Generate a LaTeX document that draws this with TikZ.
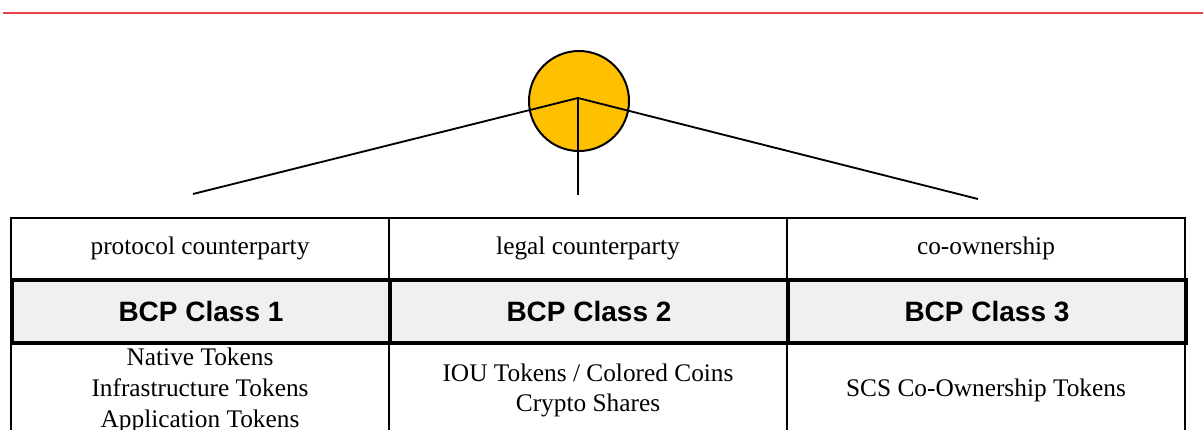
\documentclass[tikz,border=0pt]{standalone}
\usepackage{fontspec}
\setmainfont{Liberation Serif}
\newfontfamily\classfont{Liberation Sans}
\usetikzlibrary{positioning}
\definecolor{HubGold}{HTML}{FFC000}
\definecolor{RuleRed}{HTML}{E8444C}
\definecolor{ClassGray}{HTML}{F0F0F0}

\begin{document}
\begin{tikzpicture}[x=0.75pt, y=-0.75pt, every node/.style={font=\fontsize{19}{23}\selectfont}, cell/.style={draw, line width=1.5pt, anchor=north west, inner sep=0pt, align=center, minimum height=45.75pt}, classcell/.style={cell, line width=3pt, fill=ClassGray, minimum height=47.25pt, font=\classfont\bfseries\fontsize{21}{25}\selectfont}, tokencell/.style={cell, minimum height=72.75pt}, link/.style={line width=1.4pt}]
\useasboundingbox (0,0) rectangle (1203,429);
\clip (0,0) rectangle (1203,429);
% rule along the top
\coordinate (rulestart) at (3,13); \coordinate (ruleend) at (1203,13);
\draw[RuleRed, line width=1.2pt] (rulestart)--(ruleend);
% hub and its three branches
\node[circle, draw, line width=1.5pt, fill=HubGold, minimum size=75pt, inner sep=0pt] (hub) at (579,101) {};
\coordinate (apex) at (578,98);
\coordinate (leftend) at (193,194); \coordinate (midend) at (578,195); \coordinate (rightend) at (978,199);
\draw[link] (apex)--(leftend); \draw[link] (apex)--(midend); \draw[link] (apex)--(rightend);
% table: counterparty row, token row, then the class row on top
\node[cell, minimum width=283.5pt] (p1) at (10,217) {protocol counterparty};
\node[cell, minimum width=298.5pt] (p2) at (388,217) {legal counterparty};
\node[cell, minimum width=298.5pt] (p3) at (786,217) {co-ownership};
\node[tokencell, minimum width=283.5pt] (t1) at (10,341) {Native Tokens\\Infrastructure Tokens\\Application Tokens};
\node[tokencell, minimum width=298.5pt] (t2) at (388,341) {IOU Tokens / Colored Coins\\Crypto Shares};
\node[tokencell, minimum width=298.5pt] (t3) at (786,341) {SCS Co-Ownership Tokens};
\node[classcell, minimum width=283.5pt] (c1) at (10,278) {BCP Class 1};
\node[classcell, minimum width=298.5pt] (c2) at (388,278) {BCP Class 2};
\node[classcell, minimum width=298.5pt] (c3) at (786,278) {BCP Class 3};
\end{tikzpicture}
\end{document}
